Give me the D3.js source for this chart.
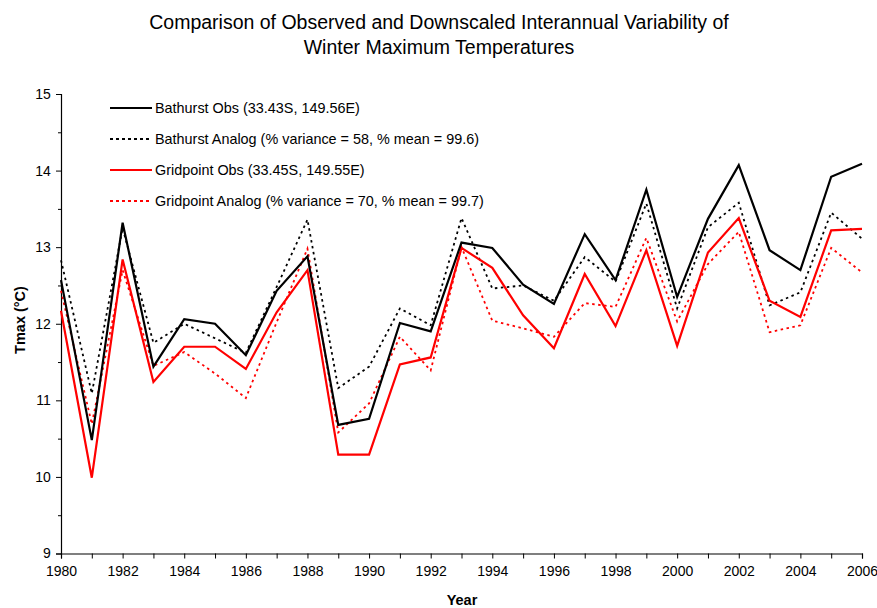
<!DOCTYPE html>
<html>
<head>
<meta charset="utf-8">
<script src="https://d3js.org/d3.v7.min.js"></script>
<style>
  body { margin: 0; background: #fff; }
  svg text { font-family: "Liberation Sans", Arial, sans-serif; fill: #000; }
</style>
</head>
<body>
<div id="chart"></div>
<script>
// data
var years = d3.range(1980, 2007);

var bathurstObs = [12.57, 10.48, 13.32, 11.44, 12.06, 12.00, 11.59, 12.43, 12.88, 10.68,
                   10.76, 12.01, 11.90, 13.06, 12.99, 12.51, 12.26, 13.17, 12.57, 13.75,
                   12.35, 13.37, 14.07, 12.96, 12.70, 13.92, 14.09];
var bathurstAnalog = [12.83, 11.09, 13.25, 11.75, 12.00, 11.81, 11.62, 12.48, 13.36, 11.16,
                      11.44, 12.20, 11.98, 13.38, 12.46, 12.50, 12.30, 12.87, 12.55, 13.57,
                      12.20, 13.26, 13.58, 12.24, 12.41, 13.45, 13.11];
var gridObs = [12.17, 9.99, 12.84, 11.24, 11.70, 11.70, 11.41, 12.15, 12.70, 10.29,
               10.29, 11.47, 11.56, 12.99, 12.73, 12.11, 11.68, 12.65, 11.97, 12.96,
               11.71, 12.93, 13.38, 12.30, 12.09, 13.22, 13.24];
var gridAnalog = [12.43, 10.69, 12.70, 11.45, 11.63, 11.35, 11.03, 12.02, 12.98, 10.58,
                  10.96, 11.83, 11.39, 13.00, 12.04, 11.94, 11.83, 12.27, 12.22, 13.12,
                  12.03, 12.78, 13.20, 11.89, 11.98, 12.99, 12.67];

var seriesNames = ["Bathurst Obs (33.43S, 149.56E)",
                   "Bathurst Analog (% variance = 58, % mean = 99.6)",
                   "Gridpoint Obs (33.45S, 149.55E)",
                   "Gridpoint Analog (% variance = 70, % mean = 99.7)"];
var seriesValues = [bathurstObs, bathurstAnalog, gridObs, gridAnalog];
var seriesColors = ["#000", "#000", "#ff0000", "#ff0000"];
var seriesDash = [null, "2.5,3.5", null, "2.5,3.5"];

var titleLines = ["Comparison of Observed and Downscaled Interannual Variability of",
                  "Winter Maximum Temperatures"];

var width = 877, height = 608;
var margin = {top: 94, right: 15, bottom: 55, left: 61};

var svg = d3.select("#chart").append("svg")
  .attr("width", width)
  .attr("height", height);

var x = d3.scaleLinear().domain([1980, 2006]).range([margin.left, 862]);
var y = d3.scaleLinear().domain([9, 15]).range([553.5, margin.top]);

// title
svg.selectAll(".title").data(titleLines).enter().append("text")
  .attr("x", 439)
  .attr("y", function(d, i) { return 29 + i * 25; })
  .attr("text-anchor", "middle")
  .style("font-size", "19.5px")
  .text(function(d) { return d; });

// axes
var xAxis = d3.axisBottom(x)
  .tickValues(years)
  .tickSize(5)
  .tickFormat(function(d) { return d % 2 === 0 ? d : ""; });

var gx = svg.append("g")
  .attr("transform", "translate(0," + y(9) + ")")
  .call(xAxis);

var yAxis = d3.axisLeft(y)
  .tickValues(d3.range(9, 15.01, 0.5))
  .tickSize(5)
  .tickFormat(function(d) { return d % 1 === 0 ? d : ""; });

var gy = svg.append("g")
  .attr("transform", "translate(" + x(1980) + ",0)")
  .call(yAxis);

gy.selectAll(".tick line").attr("x2", function(d) { return d % 1 === 0 ? -5 : -3; });

[gx, gy].forEach(function(g) {
  g.select(".domain").attr("stroke", "#000").attr("stroke-width", 1.2);
  g.selectAll(".tick line").attr("stroke", "#000");
  g.selectAll("text").style("font-size", "14px").attr("fill", "#000");
});
gx.selectAll("text").attr("dy", "1.05em");
gy.selectAll("text").attr("dx", "-0.15em");

// axis titles
svg.append("text")
  .attr("x", 462)
  .attr("y", 605)
  .attr("text-anchor", "middle")
  .style("font-size", "14.5px")
  .style("font-weight", "bold")
  .text("Year");

svg.append("text")
  .attr("transform", "translate(25," + 320 + ") rotate(-90)")
  .attr("text-anchor", "middle")
  .style("font-size", "14.5px")
  .style("font-weight", "bold")
  .text("Tmax (°C)");

// lines
var line = d3.line()
  .x(function(d, i) { return x(years[i]); })
  .y(function(d) { return y(d); });

var order = [3, 1, 2, 0];
order.forEach(function(k) {
  svg.append("path")
    .datum(seriesValues[k])
    .attr("fill", "none")
    .attr("stroke", seriesColors[k])
    .attr("stroke-width", seriesDash[k] ? 1.8 : 2.2)
    .attr("stroke-dasharray", seriesDash[k])
    .attr("stroke-linejoin", "miter")
    .attr("d", line);
});

// legend
var legend = svg.append("g");
seriesNames.forEach(function(name, i) {
  var ly = 108 + i * 31;
  legend.append("line")
    .attr("x1", 110).attr("x2", 152)
    .attr("y1", ly).attr("y2", ly)
    .attr("stroke", seriesColors[i])
    .attr("stroke-width", 2)
    .attr("stroke-dasharray", seriesDash[i] ? "3,3" : null);
  legend.append("text")
    .attr("x", 155)
    .attr("y", ly + 5)
    .style("font-size", "14.4px")
    .text(name);
});
</script>
</body>
</html>
